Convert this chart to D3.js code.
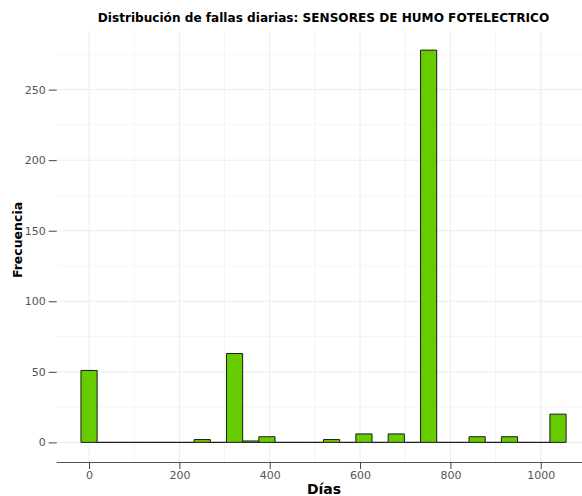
<!DOCTYPE html>
<html>
<head>
<meta charset="utf-8">
<script src="https://cdn.jsdelivr.net/npm/d3@7"></script>
<style>
  html, body { margin: 0; padding: 0; background: #fff; }
  svg { display: block; font-family: "DejaVu Sans", sans-serif; }
</style>
</head>
<body>
<svg id="chart" width="582" height="496"></svg>
<script>
// Histogram of daily failures: bin centres (days) and counts per bin
const binCenters = [0, 35.8, 71.6, 107.4, 143.2, 179, 214.8, 250.6, 286.4, 322.2,
                    358, 393.8, 429.6, 465.4, 501.2, 537, 572.8, 608.6, 644.4, 680.2,
                    716, 751.8, 787.6, 823.4, 859.2, 895, 930.8, 966.6, 1002.4, 1038.2];
const counts =     [51, 0, 0, 0, 0, 0, 0, 2, 0, 63,
                    1, 4, 0, 0, 0, 2, 0, 6, 0, 6,
                    0, 278, 0, 0, 4, 0, 4, 0, 0, 20];
const binWidth = 35.8;

const xTicks = [0, 200, 400, 600, 800, 1000];
const xMinor = [100, 300, 500, 700, 900, 1100];
const yTicks = [0, 50, 100, 150, 200, 250];
const yMinor = [25, 75, 125, 175, 225, 275];

const titleText = "Distribución de fallas diarias: SENSORES DE HUMO FOTELECTRICO";
const xTitle = "Días";
const yTitle = "Frecuencia";

const svg = d3.select("#chart");
const panel = { left: 56.7, top: 30.5, bottom: 462 };

// scale domains padded by 5% like the usual histogram defaults
const xMinData = binCenters[0] - binWidth / 2;
const xMaxData = binCenters[binCenters.length - 1] + binWidth / 2;
const xPad = (xMaxData - xMinData) * 0.05;
const pxPerDay = 0.4517;
const x = d3.scaleLinear()
  .domain([xMinData - xPad, xMaxData + xPad])
  .range([panel.left, panel.left + (xMaxData - xMinData + 2 * xPad) * pxPerDay]);

const yMax = d3.max(counts);
const yPad = yMax * 0.05;
const y = d3.scaleLinear()
  .domain([-yPad, yMax + yPad])
  .range([panel.bottom, panel.top]);

const right = x.range()[1];

// grid
const grid = svg.append("g");
grid.selectAll("line.ymin").data(yMinor).join("line")
  .attr("x1", panel.left).attr("x2", right)
  .attr("y1", d => y(d)).attr("y2", d => y(d))
  .attr("stroke", "#f6f6f6").attr("stroke-width", 1);
grid.selectAll("line.xmin").data(xMinor).join("line")
  .attr("y1", panel.top).attr("y2", panel.bottom)
  .attr("x1", d => x(d)).attr("x2", d => x(d))
  .attr("stroke", "#f4f4f4").attr("stroke-width", 1);
grid.selectAll("line.ymaj").data(yTicks).join("line")
  .attr("x1", panel.left).attr("x2", right)
  .attr("y1", d => y(d)).attr("y2", d => y(d))
  .attr("stroke", "#ececec").attr("stroke-width", 1);
grid.selectAll("line.xmaj").data(xTicks).join("line")
  .attr("y1", panel.top).attr("y2", panel.bottom)
  .attr("x1", d => x(d)).attr("x2", d => x(d))
  .attr("stroke", "#ebebeb").attr("stroke-width", 1);

// bars as closed paths so empty bins still show their outline on the baseline
svg.append("g").selectAll("path").data(binCenters).join("path")
  .attr("d", (d, i) => {
    const x0 = x(d - binWidth / 2), x1 = x(d + binWidth / 2);
    const y0 = y(0), y1 = y(counts[i]);
    return `M${x0},${y0}V${y1}H${x1}V${y0}Z`;
  })
  .attr("fill", "#66CC00")
  .attr("stroke", "#1a1a1a")
  .attr("stroke-width", 1);

// x axis
const xAxis = d3.axisBottom(x).tickValues(xTicks).tickFormat(d3.format("d"))
  .tickSize(7).tickPadding(2);
const gx = svg.append("g").attr("transform", `translate(0,${panel.bottom})`).call(xAxis);
gx.select(".domain").attr("stroke", "#555").attr("d", `M${panel.left},0.5H${right}`);
gx.selectAll(".tick line").attr("stroke", "#444");
gx.selectAll(".tick text").attr("fill", "#555").attr("font-size", 11)
  .attr("font-family", "DejaVu Sans, sans-serif");

// y axis (ticks only)
const yAxis = d3.axisLeft(y).tickValues(yTicks).tickFormat(d3.format("d"))
  .tickSize(8).tickPadding(3);
const gy = svg.append("g").attr("transform", `translate(${panel.left},0)`).call(yAxis);
gy.select(".domain").remove();
gy.selectAll(".tick line").attr("stroke", "#444");
gy.selectAll(".tick text").attr("fill", "#555").attr("font-size", 11)
  .attr("font-family", "DejaVu Sans, sans-serif");

// titles
svg.append("text")
  .attr("x", 323.5).attr("y", 22)
  .attr("text-anchor", "middle")
  .attr("font-weight", "bold").attr("font-size", 12.1).attr("fill", "#000")
  .text(titleText);

svg.append("text")
  .attr("x", 324).attr("y", 494)
  .attr("text-anchor", "middle")
  .attr("font-weight", "bold").attr("font-size", 14).attr("fill", "#000")
  .text(xTitle);

svg.append("text")
  .attr("transform", "translate(21.5,240) rotate(-90)")
  .attr("text-anchor", "middle")
  .attr("font-weight", "bold").attr("font-size", 12.5).attr("fill", "#000")
  .text(yTitle);
</script>
</body>
</html>
